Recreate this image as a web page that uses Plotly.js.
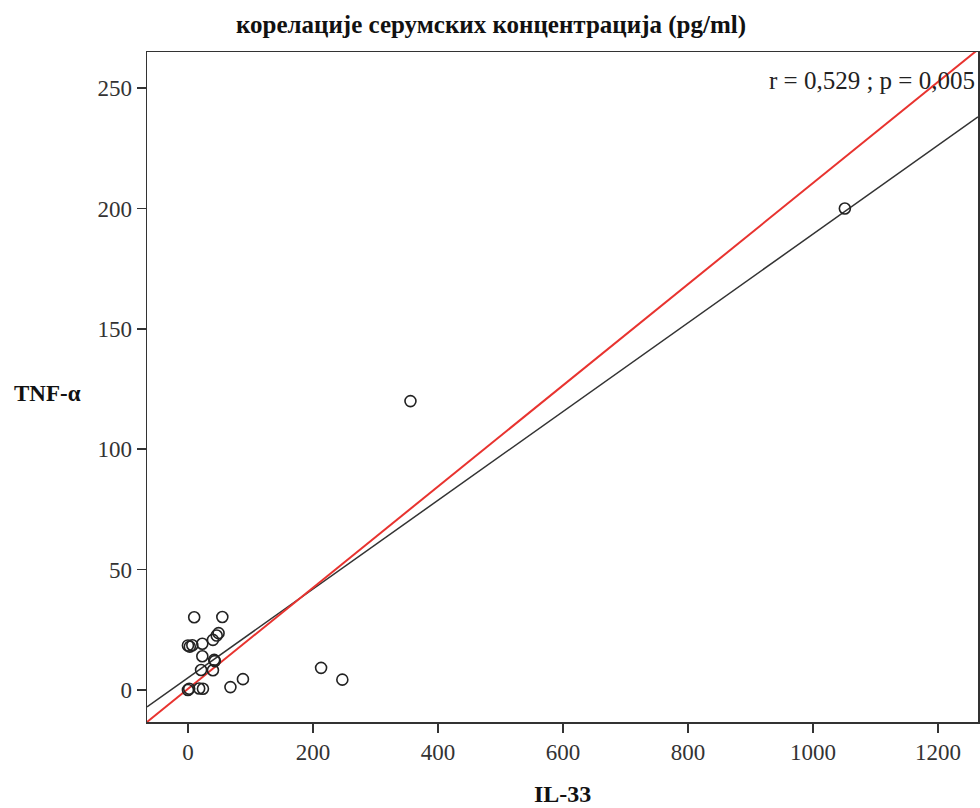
<!DOCTYPE html>
<html>
<head>
<meta charset="utf-8">
<script src="https://cdn.plot.ly/plotly-3.0.1.min.js"></script>
<style>html,body{margin:0;padding:0;background:#fff;}#chart{width:980px;height:808px;}</style>
</head>
<body>
<div id="chart"></div>
<script>
// Data (IL-33 vs TNF-α, pg/ml)
const il33 = [1051, 356, 213, 247, 88, 68, 10, 55, 49, 46, 0, 3, 7, 23, 40, 23, 42, 21, 40, 0, 2, 18, 24, 43];
const tnf  = [200, 120, 9.2, 4.3, 4.5, 1.2, 30.2, 30.3, 23.6, 22.6, 18.5, 18, 18.6, 19.2, 20.8, 14, 12.5, 8.3, 8.2, 0, 0.5, 0.6, 0.5, 12.0];
const xRange = [-65.5, 1264];
const yRange = [-13.3, 265];
const xTicks = [0, 200, 400, 600, 800, 1000, 1200];
const yTicks = [0, 50, 100, 150, 200, 250];
const fitLine = {intercept: 5.07, slope: 0.1843};   // black fit line
const refLine = {intercept: 0.46, slope: 0.2101};   // red line
const titleText = 'корелације серумских концентрација (pg/ml)';
const statText = 'r = 0,529 ; p = 0,005';

function lineTrace(c, color, width) {
  return {
    x: xRange,
    y: xRange.map(v => c.intercept + c.slope * v),
    mode: 'lines', type: 'scatter',
    line: {color: color, width: width},
    hoverinfo: 'skip', showlegend: false
  };
}

const traces = [
  lineTrace(fitLine, '#333333', 1.5),
  lineTrace(refLine, '#e8332f', 2),
  {
    x: il33, y: tnf, mode: 'markers', type: 'scatter',
    marker: {symbol: 'circle-open', size: 11, color: '#222', line: {width: 1.6, color: '#222'}},
    showlegend: false, cliponaxis: false
  }
];

const serif = '"Liberation Serif", "Times New Roman", serif';
const layout = {
  width: 980, height: 808,
  margin: {l: 147, r: 2, t: 52, b: 86},
  paper_bgcolor: '#fff', plot_bgcolor: '#fff',
  showlegend: false,
  font: {family: serif, color: '#333', size: 23},
  title: {text: '<b>' + titleText + '</b>', font: {family: serif, size: 25, color: '#111'}, x: 0.501, xanchor: 'center', y: 0.97, yanchor: 'middle'},
  xaxis: {
    range: xRange, tickvals: xTicks, ticktext: xTicks.map(String),
    showgrid: false, zeroline: false,
    showline: true, linecolor: '#333', linewidth: 1.5, mirror: true,
    ticks: 'outside', ticklen: 9, tickwidth: 1.5, tickcolor: '#333',
    tickfont: {family: serif, size: 23, color: '#333'}
  },
  yaxis: {
    range: yRange, tickvals: yTicks, ticktext: yTicks.map(String),
    showgrid: false, zeroline: false,
    showline: true, linecolor: '#333', linewidth: 1.5, mirror: true,
    ticks: 'outside', ticklen: 9, tickwidth: 1.5, tickcolor: '#333',
    tickfont: {family: serif, size: 23, color: '#333'}
  },
  annotations: [
    {text: statText, xref: 'paper', yref: 'paper', x: 0.999, y: 0.957, xanchor: 'right', yanchor: 'middle', showarrow: false, font: {family: serif, size: 25, color: '#222'}},
    {text: '<b>TNF-α</b>', xref: 'paper', yref: 'paper', x: -0.12, y: 0.491, xanchor: 'center', yanchor: 'middle', showarrow: false, font: {family: serif, size: 23, color: '#111'}},
    {text: '<b>IL-33</b>', xref: 'paper', yref: 'paper', x: 0.5, y: -0.108, xanchor: 'center', yanchor: 'middle', showarrow: false, font: {family: serif, size: 24, color: '#111'}}
  ]
};

Plotly.newPlot('chart', traces, layout, {displayModeBar: false, staticPlot: true});
</script>
</body>
</html>
